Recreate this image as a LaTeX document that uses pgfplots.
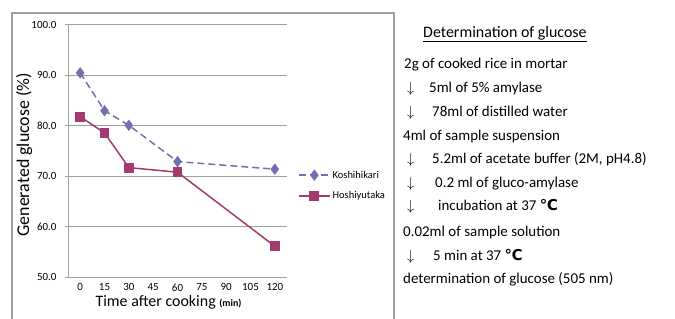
\documentclass[border=0pt]{standalone}
\usepackage{pgfplots}
\pgfplotsset{compat=1.18}
\usepackage{fontspec}
\setmainfont{Carlito}
\newfontfamily\dejavu{DejaVu Sans}
\definecolor{kosh}{RGB}{112,112,176}
\definecolor{hosh}{RGB}{162,59,114}
\definecolor{gridc}{RGB}{160,160,160}
\begin{document}
\begin{tikzpicture}[x=1bp,y=1bp]
\useasboundingbox (0,0) rectangle (675,318);
\draw[gridc, line width=1.2bp] (12,-5) -- (12,305) -- (394,305) -- (394,-5);
\begin{axis}[
  at={(68bp,41bp)}, anchor=south west, scale only axis,
  width=219bp, height=252bp,
  xmin=-7.5, xmax=127.5, ymin=50, ymax=100,
  xtick={0,15,...,120}, ytick={50,60,...,100},
  axis lines*=left,
  axis line style={gridc, line width=1bp},
  ymajorgrids, grid style={gridc, line width=1bp},
  tick align=outside, major tick length=3bp,
  major y tick style={gridc, line width=1bp},
  major x tick style={draw=none},
  /pgf/number format/assume math mode=true,
  y tick label style={/pgf/number format/fixed, /pgf/number format/fixed zerofill, /pgf/number format/precision=1, xshift=-5bp},
  tick label style={font=\fontsize{11}{12}\selectfont},
  x tick label style={inner sep=0.5bp, yshift=-3bp},
  xlabel={Time after cooking {\bfseries\fontsize{10}{11}\selectfont (min)}},
  xlabel style={font=\fontsize{16}{18}\selectfont, at={(axis description cs:0.459,0)}, anchor=north, inner sep=0pt, yshift=-18bp},
  ylabel={Generated glucose (\%)},
  ylabel style={font=\fontsize{18}{20}\selectfont, at={(axis description cs:-0.2,0.485)}, anchor=center},
  legend style={at={(axis description cs:1.05,0.363)}, anchor=west, draw=none, fill=none, font=\fontsize{10.5}{12}\selectfont, row sep=8bp, inner sep=0pt},
  legend cell align=left,
  legend image code/.code={\draw[mark repeat=2,mark phase=2,#1] plot coordinates {(0bp,0bp)(15.5bp,0bp)(31bp,0bp)};},
]
\addplot[kosh, line width=1.5bp, dash pattern=on 7bp off 4bp, mark=diamond*, mark size=4.5bp, mark options={solid}]
  coordinates {(0,90.5)(15,83.0)(30,80.1)(60,72.9)(120,71.4)};
\addlegendentry{Koshihikari}
\addplot[hosh, line width=1.5bp, mark=square*, mark size=4.2bp, mark options={solid}]
  coordinates {(0,81.8)(15,78.6)(30,71.7)(60,70.8)(120,56.1)};
\addlegendentry{Hoshiyutaka}
\end{axis}
\begin{scope}[every node/.style={anchor=base west, inner sep=0pt, font=\fontsize{15}{18}\selectfont}]
\node at (423,318-37.5) {\fontsize{16}{18}\selectfont\underline{Determination of glucose}};
\node at (404,318-68) {2g of cooked rice in mortar};
\node at (407,318-92) {$\downarrow$};
\node at (429,318-92) {5ml of 5\% amylase};
\node at (407,318-116) {$\downarrow$};
\node at (432,318-116) {78ml of distilled water};
\node at (403,318-140) {4ml of sample suspension};
\node at (407,318-163) {$\downarrow$};
\node at (432,318-163) {5.2ml of acetate buffer (2M, pH4.8)};
\node at (407,318-187) {$\downarrow$};
\node at (435,318-187) {0.2 ml of gluco-amylase};
\node at (407,318-210) {$\downarrow$};
\node at (438,318-210) {incubation at 37 {\dejavu\bfseries ℃}};
\node at (403,318-236) {0.02ml of sample solution};
\node at (407,318-260) {$\downarrow$};
\node at (433,318-260) {5 min at 37 {\dejavu\bfseries ℃}};
\node at (403,318-283) {determination of glucose (505 nm)};
\end{scope}
\end{tikzpicture}
\end{document}
